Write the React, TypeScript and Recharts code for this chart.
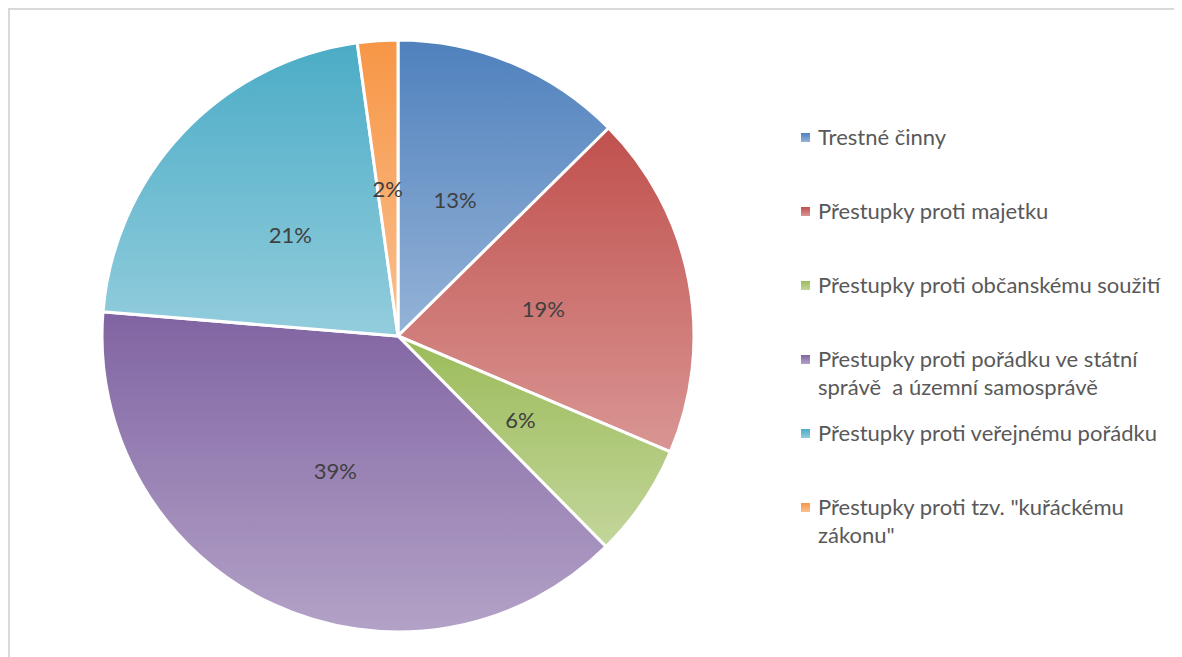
import { PieChart, Pie, Cell, Legend } from 'recharts';

const categories = [
  'Trestné činny',
  'Přestupky proti majetku',
  'Přestupky proti občanskému soužití',
  'Přestupky proti pořádku ve státní správě  a územní samosprávě',
  'Přestupky proti veřejnému pořádku',
  'Přestupky proti tzv. "kuřáckému zákonu"',
];
const shares = [12.6, 18.8, 6.2, 38.7, 21.5, 2.2];
const topColors = ['#4f81bd', '#c0504d', '#9bbb59', '#8064a2', '#4bacc6', '#f79646'];
const bottomColors = ['#95b3d7', '#d99694', '#c3d69b', '#b3a2c7', '#93cddd', '#fac090'];

const data = categories.map((name, i) => ({ name, value: shares[i] }));

const FONT = 'Lato, "Open Sans", sans-serif';
const RAD = Math.PI / 180;

function renderLabel(props: any) {
  const { cx, cy, midAngle, outerRadius, percent } = props;
  const r = outerRadius * 0.5;
  const x = cx + r * Math.cos(-midAngle * RAD);
  const y = cy + r * Math.sin(-midAngle * RAD);
  return (
    <text
      x={x}
      y={y}
      fill="#404040"
      fontSize={22}
      fontFamily={FONT}
      textAnchor="middle"
      dominantBaseline="central"
    >
      {Math.round(percent * 100) + '%'}
    </text>
  );
}

function renderLegend() {
  return (
    <div style={{ fontFamily: FONT, fontSize: 22, color: '#595959', width: 370 }}>
      {categories.map((name, i) => (
        <div
          key={name}
          style={{
            display: 'flex',
            alignItems: 'flex-start',
            height: 74,
            lineHeight: '28px',
          }}
        >
          <span
            style={{
              display: 'inline-block',
              width: 9,
              height: 9,
              marginTop: 10,
              marginRight: 8,
              flexShrink: 0,
              background: `linear-gradient(${topColors[i]}, ${bottomColors[i]})`,
            }}
          />
          <span style={{ width: 352, whiteSpace: 'pre-wrap' }}>{name}</span>
        </div>
      ))}
    </div>
  );
}

export default function App() {
  return (
    <div
      style={{
        width: 1174,
        height: 660,
        borderTop: '2px solid #d9d9d9',
        borderLeft: '2px solid #d9d9d9',
        boxSizing: 'border-box',
        overflow: 'hidden',
      }}
    >
      <style>{'html, body { overflow: hidden; }'}</style>
      <PieChart width={1170} height={650}>
        <defs>
          {topColors.map((c, i) => (
            <linearGradient key={c} id={`grad${i}`} x1="0" y1="0" x2="0" y2="1">
              <stop offset="0%" stopColor={c} />
              <stop offset="100%" stopColor={bottomColors[i]} />
            </linearGradient>
          ))}
        </defs>
        <Pie
          data={data}
          dataKey="value"
          nameKey="name"
          cx={383}
          cy={321}
          outerRadius={296}
          startAngle={90}
          endAngle={-270}
          stroke="#ffffff"
          strokeWidth={3}
          label={renderLabel}
          labelLine={false}
          isAnimationActive={false}
        >
          {data.map((d, i) => (
            <Cell key={d.name} fill={`url(#grad${i})`} />
          ))}
        </Pie>
        <Legend
          content={renderLegend}
          wrapperStyle={{ left: 791, top: 113, width: 380 }}
        />
      </PieChart>
    </div>
  );
}
